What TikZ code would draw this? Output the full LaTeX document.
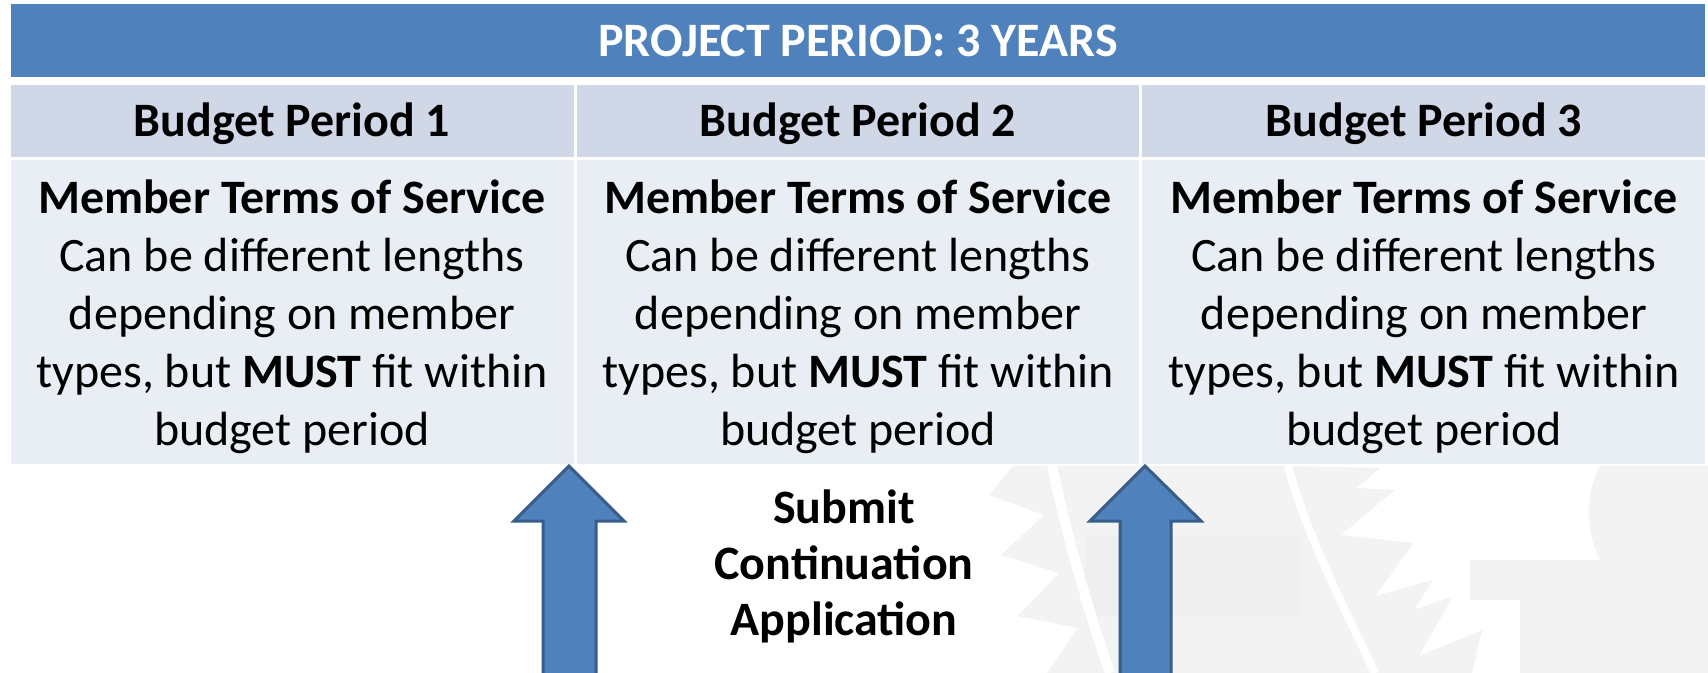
\documentclass[tikz,border=0pt]{standalone}
\usepackage{fontspec}
\setmainfont{Carlito}
\definecolor{hdr}{HTML}{4F81BD}
\definecolor{rowa}{HTML}{D0D8E8}
\definecolor{rowb}{HTML}{E9EDF4}
\definecolor{arrline}{HTML}{385D8A}
\definecolor{wm}{HTML}{F3F3F3}
\definecolor{wmdark}{HTML}{EFEFEF}
\tikzset{
  hdrtext/.style={text=white,font=\fontsize{24}{28}\selectfont\bfseries,inner sep=0pt},
  bptext/.style={text=black,font=\fontsize{24}{28}\selectfont\bfseries,inner sep=0pt},
  bodytext/.style={text=black,font=\fontsize{24}{29}\selectfont,align=center,inner sep=0pt},
  subtext/.style={text=black,font=\fontsize{24}{28}\selectfont\bfseries,align=center,inner sep=0pt},
  sep/.style={white,line width=1.5pt},
  uparrow/.style={fill=hdr,draw=arrline,line width=1.5pt,line join=miter},
  wmfill/.style={fill=wm,draw=none},
  wmcut/.style={draw=white,line width=5pt}
}
\begin{document}
\begin{tikzpicture}[x=0.5pt,y=-0.5pt]
\fill[white] (0,0) rectangle (1708,673);
\useasboundingbox (0,0) rectangle (1708,673);
% faint watermark seal
\fill[wmfill] (1013,466) -- (989,495) -- (1044,515) -- (1001,555) -- (1059,573) -- (1018,616) -- (1078,628) -- (1047,673)
  -- (1375,673) .. controls (1340,600) and (1305,530) .. (1288,466) -- cycle;
\fill[wmdark] (1085,535) rectangle (1300,616);
\fill[wmfill] (1288,466) -- (1380,468) -- (1356,488) -- (1395,490) -- (1341,535) -- (1414,543) -- (1375,596) -- (1433,580)
  -- (1414,610) -- (1453,596) -- (1419,656) -- (1482,630) -- (1472,673) -- (1375,673) .. controls (1340,600) and (1305,530) .. (1288,466) -- cycle;
\fill[wmfill] (1600,466) -- (1708,466) -- (1708,673) -- (1520,673) -- (1520,600) -- (1470,600) -- (1470,560) -- (1600,560)
  .. controls (1585,530) and (1585,495) .. (1600,466) -- cycle;
\draw[wmcut] (1052,466) .. controls (1068,540) and (1088,610) .. (1110,673);
\draw[wmcut,line width=4pt] (1288,466) .. controls (1305,530) and (1340,600) .. (1375,673);
% table
\fill[hdr] (11,4) rectangle (1705,77);
\fill[rowa] (11,85) rectangle (1705,157);
\fill[rowb] (11,160) rectangle (1705,464);
\draw[sep] (575,85) -- (575,464);
\draw[sep] (1140,85) -- (1140,464);
\node[hdrtext] (title) at (858,41) {PROJECT PERIOD: 3 YEARS};
\node[bptext] (bp1) at (292,124) {Budget Period 1};
\node[bptext] (bp2) at (858,124) {Budget Period 2};
\node[bptext] (bp3) at (1424,124) {Budget Period 3};
\foreach \x/\n in {292/d1,858/d2,1424/d3}{
  \node[bodytext] (\n) at (\x,317) {\textbf{Member Terms of Service}\\Can be different lengths\\depending on member\\types, but \textbf{MUST} fit within\\budget period};
}
\node[subtext] (sub) at (844,566) {Submit\\Continuation\\Application};
% arrows
\draw[uparrow] (569,466) -- (624,521) -- (596,521) -- (596,690) -- (543,690) -- (543,521) -- (514,521) -- cycle;
\draw[uparrow] (1145,466) -- (1201,521) -- (1171,521) -- (1171,690) -- (1120,690) -- (1120,521) -- (1090,521) -- cycle;
\end{tikzpicture}
\end{document}
